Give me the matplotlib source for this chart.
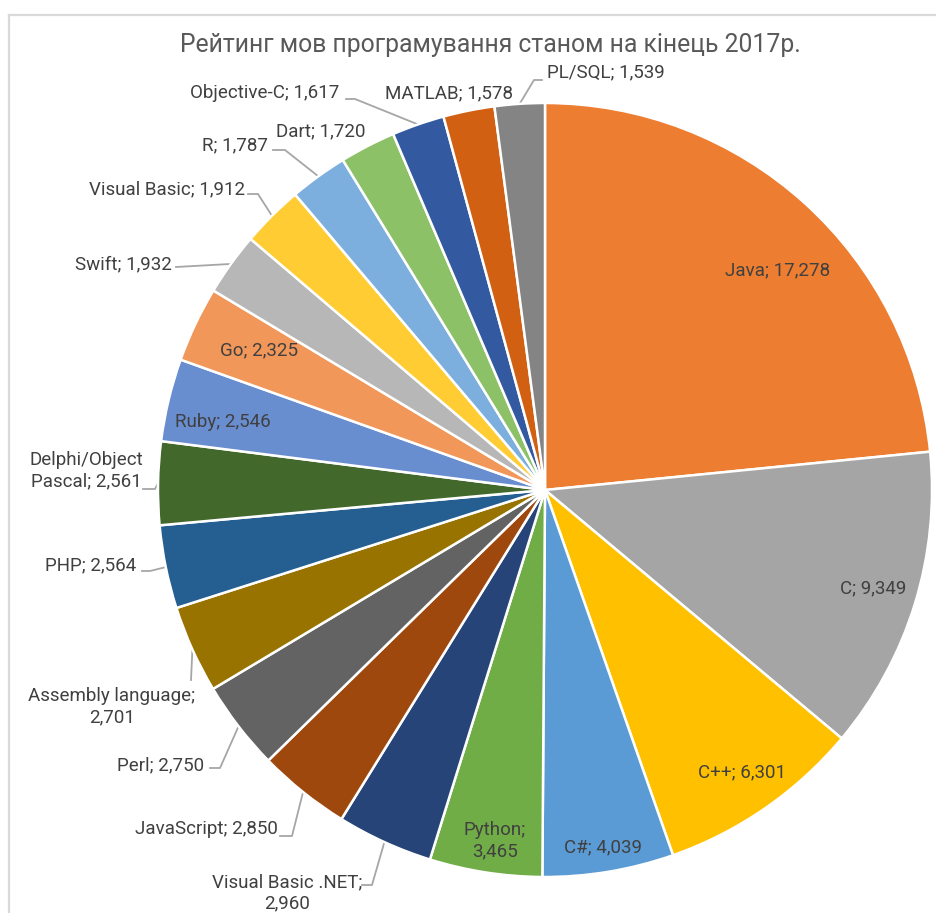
import numpy as np
import matplotlib
matplotlib.use("Agg")
import matplotlib.pyplot as plt
from matplotlib.lines import Line2D

# TIOBE-style rating, end of 2017
languages = ["Java", "C", "C++", "C#", "Python", "Visual Basic .NET", "JavaScript",
             "Perl", "Assembly language", "PHP", "Delphi/Object Pascal", "Ruby", "Go",
             "Swift", "Visual Basic", "R", "Dart", "Objective-C", "MATLAB", "PL/SQL"]
ratings = [17.278, 9.349, 6.301, 4.039, 3.465, 2.960, 2.850, 2.750, 2.701, 2.564,
           2.561, 2.546, 2.325, 1.932, 1.912, 1.787, 1.720, 1.617, 1.578, 1.539]
colors = ["#ED7D31", "#A5A5A5", "#FFC000", "#5B9BD5", "#70AD47", "#264478", "#9E480E",
          "#636363", "#997300", "#255E91", "#43682B", "#698ED0", "#F1975A", "#B7B7B7",
          "#FFCD33", "#7CAFDD", "#8CC168", "#335AA1", "#D26012", "#848484"]
title = "Рейтинг мов програмування станом на кінець 2017р."

# line breaks used by the label boxes
wrapped = {"Python": "Python;\n{v}", "Visual Basic .NET": "Visual Basic .NET;\n{v}",
           "Assembly language": "Assembly language;\n{v}",
           "Delphi/Object Pascal": "Delphi/Object\nPascal; {v}"}

W, H = 937, 913
CX, CY, R = 545, 490, 387  # pie centre / radius in pixels (y down)

# label layout in pixels (y down): text centre, leader elbow (None = no leader), leader end
label_pos = {
    "Java": ((778, 270), None, None),
    "C": ((873, 588), None, None),
    "C++": ((742, 772), None, None),
    "C#": ((603, 847), None, None),
    "Python": ((495, 841), None, None),
    "Visual Basic .NET": ((287, 893), (372, 885), (362, 885)),
    "JavaScript": ((206, 829), (292, 836), (280, 836)),
    "Perl": ((161, 765), (220, 768), (210, 768)),
    "Assembly language": ((112, 707), (191, 680), (191, 680)),
    "PHP": ((91, 565), (150, 571), (142, 571)),
    "Delphi/Object Pascal": ((86, 471), (155, 489), (143, 489)),
    "Ruby": ((223, 422), None, None),
    "Go": ((259, 350), None, None),
    "Swift": ((123, 264), (176, 267), (176, 267)),
    "Visual Basic": ((167, 189), (258, 194), (248, 194)),
    "R": ((235, 145), (285, 150), (273, 150)),
    "Dart": ((321, 131), None, None),
    "Objective-C": ((265, 93), (355, 99), (346, 99)),
    "MATLAB": ((449, 93), None, None),
    "PL/SQL": ((606, 72), (534, 80), (542, 80)),
}


def px(x, y):
    return x, H - y


plt.rcParams["font.family"] = ["Roboto", "DejaVu Sans"]
fig = plt.figure(figsize=(W / 100, H / 100), dpi=100)
ax = fig.add_axes([0, 0, 1, 1])

wedges, _ = ax.pie(ratings, colors=colors, startangle=90, counterclock=False,
                   center=px(CX, CY), radius=R,
                   wedgeprops=dict(edgecolor="white", linewidth=1.8))
ax.set_xlim(0, W)
ax.set_ylim(0, H)
ax.set_aspect("equal")
ax.axis("off")

txt_color = "#404040"
for name, val, w in zip(languages, ratings, wedges):
    v = f"{val:.3f}".replace(".", ",")
    text = wrapped.get(name, "{n}; {v}").format(n=name, v=v)
    (tx, ty), elbow, end = label_pos[name]
    ax.text(*px(tx, ty), text, ha="center", va="center", fontsize=13.5,
            color=txt_color, linespacing=1.25)
    if elbow is not None:
        ang = np.deg2rad((w.theta1 + w.theta2) / 2)
        ex, ey = CX + R * np.cos(ang), CY - R * np.sin(ang)
        xs = [ex, elbow[0], end[0]]
        ys = [H - ey, H - elbow[1], H - end[1]]
        ax.plot(xs, ys, color="#A6A6A6", linewidth=1.3, zorder=0.5)

ax.text(*px(490, 45), title, ha="center", va="center", fontsize=17.8, color="#595959")

# chart area border (left and top edges visible)
fig.add_artist(Line2D([9.5 / W, 9.5 / W], [0, 1 - 15 / H], color="#D9D9D9", linewidth=1.6))
fig.add_artist(Line2D([9.5 / W, 1], [1 - 15 / H, 1 - 15 / H], color="#D9D9D9", linewidth=1.6))

fig.savefig("out.png", dpi=100, facecolor="white")
